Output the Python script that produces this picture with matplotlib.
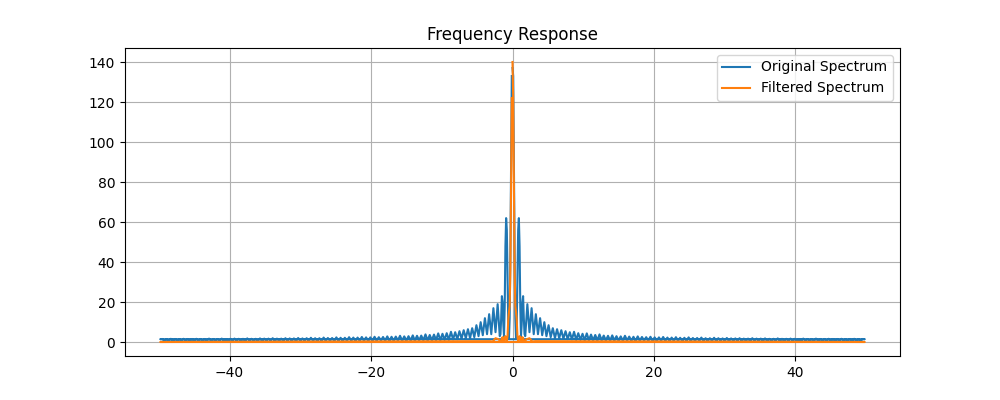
import numpy as np
import matplotlib
matplotlib.use("Agg")
import matplotlib.pyplot as plt

# ---- data (positive-frequency half; spectrum is symmetric) ----
# fine centre region, frequencies 0.0 .. 1.7 (step 0.1)
center_freq = [0.0, 0.1, 0.2, 0.3, 0.4, 0.5, 0.6, 0.7, 0.8, 0.9,
               1.0, 1.1, 1.2, 1.3, 1.4, 1.5, 1.6, 1.7]
orig_center = [137, 133, 90, 44, 12, 2, 9, 32, 56, 62,
               48, 18, 3, 9, 20, 23, 12, 4]
filt_center = [140, 122, 78, 36, 18, 15, 11, 3, 0.5, 1.5,
               3, 2.5, 0.5, 1, 2.5, 2, 0.3, 0.5]

# outer ripple region of the original spectrum: peaks at 2.1, 2.7, ... 49.5
orig_peaks = [19, 17, 14, 12, 10, 8.5, 7, 6.5, 6, 5.5,
              5, 5.2, 4.5, 4.2, 4.4, 3.8, 3.6, 3.9, 3.3, 3.2,
              3.4, 3.0, 2.9, 3.2, 2.8, 2.7, 2.9, 2.6, 2.5, 2.7,
              2.4, 2.4, 2.6, 2.3, 2.3, 2.5, 2.2, 2.2, 2.4, 2.1,
              2.1, 2.3, 2.0, 2.0, 2.2, 2.0, 1.9, 2.1, 1.9, 1.9,
              2.0, 1.8, 1.8, 2.0, 1.8, 1.8, 1.9, 1.7, 1.7, 1.9,
              1.7, 1.7, 1.8, 1.7, 1.6, 1.8, 1.6, 1.6, 1.8, 1.6,
              1.6, 1.7, 1.6, 1.6, 1.7, 1.5, 1.6, 1.7, 1.5, 1.6]
# troughs at 1.8, 2.4, ... 49.8
orig_troughs = [3, 5, 4, 4, 3.5, 3, 2.5, 2, 2, 1.8,
                1.5, 1.4, 1.2, 1.2, 1.0, 1.1, 1.0, 0.9, 1.0, 0.9,
                0.8, 0.9, 0.8, 0.8, 0.9, 0.8, 0.7, 0.8, 0.9, 0.8,
                0.8, 0.7, 0.8, 0.8, 0.7, 0.8, 0.8, 0.7, 0.8, 0.7,
                0.8, 0.8, 0.7, 0.7, 0.8, 0.7, 0.8, 0.7, 0.7, 0.8,
                0.7, 0.7, 0.8, 0.7, 0.7, 0.8, 0.7, 0.7, 0.7, 0.8,
                0.7, 0.7, 0.8, 0.7, 0.7, 0.7, 0.8, 0.7, 0.7, 0.8,
                0.7, 0.7, 0.7, 0.8, 0.7, 0.7, 0.8, 0.7, 0.7, 0.7, 1.5]

# outer region of the filtered spectrum (sparse nodes)
filt_outer_freq = [2.0, 2.4, 2.8, 3.2, 49.8]
filt_outer = [1.5, 2.0, 0.3, 0.5, 0.1]

# ---- assemble positive halves ----
peak_freq = np.round(np.arange(len(orig_peaks)) * 0.6 + 2.1, 1)
trough_freq = np.round(np.arange(len(orig_troughs)) * 0.6 + 1.8, 1)
outer_freq = np.concatenate([trough_freq, peak_freq])
outer_vals = np.concatenate([orig_troughs, orig_peaks])
order = np.argsort(outer_freq)

orig_f_pos = np.concatenate([center_freq, outer_freq[order]])
orig_v_pos = np.concatenate([orig_center, outer_vals[order]])
filt_f_pos = np.concatenate([center_freq, filt_outer_freq])
filt_v_pos = np.concatenate([filt_center, filt_outer])


def unshifted(f_pos, v_pos):
    # FFT ordering: 0 .. +fmax, then -fmax .. -df (mirror of the positive half)
    f_neg = -np.asarray(f_pos)[1:][::-1]
    v_neg = np.asarray(v_pos)[1:][::-1]
    return np.concatenate([f_pos, f_neg]), np.concatenate([v_pos, v_neg])


of, ov = unshifted(orig_f_pos, orig_v_pos)
ff, fv = unshifted(filt_f_pos, filt_v_pos)

fig, ax = plt.subplots(figsize=(10, 4), dpi=100)
ax.plot(of, ov, label="Original Spectrum")
ax.plot(ff, fv, label="Filtered Spectrum")
ax.set_title("Frequency Response")
ax.legend(loc="upper right")
ax.grid(True)
fig.savefig("out.png")
